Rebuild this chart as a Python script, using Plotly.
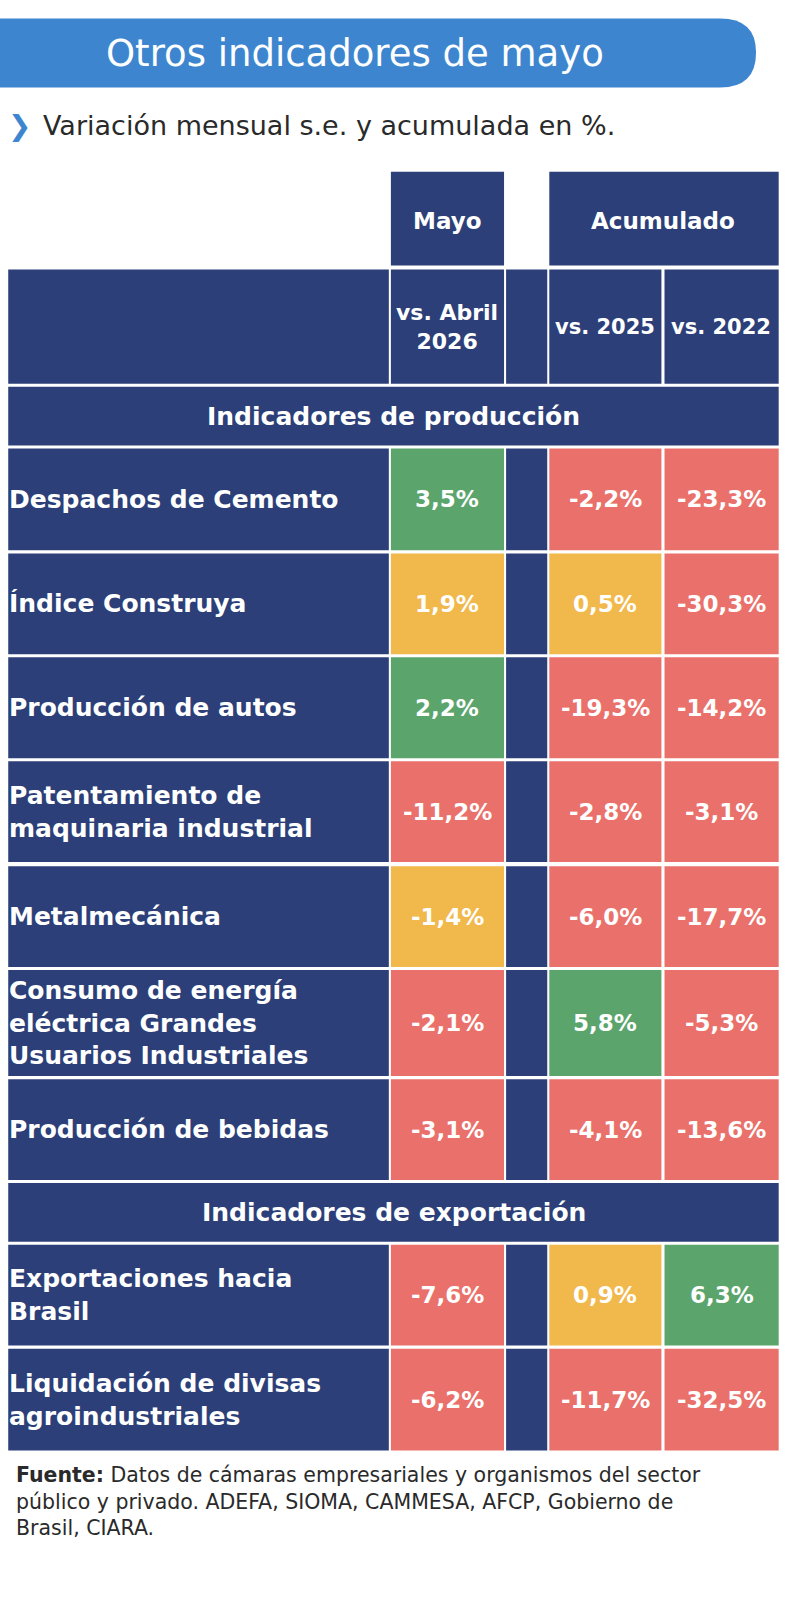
import plotly.graph_objects as go

indicadores = ["Despachos de Cemento", "Índice Construya", "Producción de autos",
               "Patentamiento de<br>maquinaria industrial", "Metalmecánica",
               "Consumo de energía<br>eléctrica Grandes<br>Usuarios Industriales",
               "Producción de bebidas",
               "Exportaciones hacia<br>Brasil", "Liquidación de divisas<br>agroindustriales"]
mayo = ["3,5%", "1,9%", "2,2%", "-11,2%", "-1,4%", "-2,1%", "-3,1%", "-7,6%", "-6,2%"]
vs2025 = ["-2,2%", "0,5%", "-19,3%", "-2,8%", "-6,0%", "5,8%", "-4,1%", "0,9%", "-11,7%"]
vs2022 = ["-23,3%", "-30,3%", "-14,2%", "-3,1%", "-17,7%", "-5,3%", "-13,6%", "6,3%", "-32,5%"]
sem_mayo = ["v", "a", "v", "r", "a", "r", "r", "r", "r"]
sem_2025 = ["r", "a", "r", "r", "r", "v", "r", "a", "r"]
sem_2022 = ["r", "r", "r", "r", "r", "r", "r", "v", "r"]
secciones = ["Indicadores de producción", "Indicadores de exportación"]

NAVY = "#2c3f78"
COL = {"v": "#5ba56d", "a": "#f1b84b", "r": "#ea716b"}
FONT = "DejaVu Sans"

# row boundaries (top, bottom) in reference pixels
filas = [(436, 535), (538, 636), (639, 737), (740, 838), (842, 940), (943, 1046),
         (1049, 1147), (1210, 1308), (1311, 1410)]
sec_y = [(376, 433), (1150, 1207)]
cx = {"lab": (8, 378), "m": (380, 490), "g": (492, 532), "a": (534, 643), "b": (646, 757)}

fig = go.Figure()
shapes, ann = [], []

def rect(x0, y0, x1, y1, c):
    shapes.append(dict(type="rect", x0=x0, x1=x1, y0=y0, y1=y1, fillcolor=c,
                       line=dict(width=0), layer="below"))

def txt(x, y, s, size=22, anchor="center", color="white", bold=True):
    ann.append(dict(x=x, y=y, text=f"<b>{s}</b>" if bold else s, showarrow=False,
                    xanchor=anchor, align="left" if anchor == "left" else "center",
                    font=dict(family=FONT, size=size, color=color)))

# title bar
shapes.append(dict(type="path", path="M 0 18 L 700 18 Q 735 18 735 51 Q 735 85 700 85 L 0 85 Z",
                   fillcolor="#3d86cf", line=dict(width=0)))
txt(345, 52, "Otros indicadores de mayo", size=37, bold=False)
txt(6, 122, "❯", size=28, anchor="left", color="#3d86cf")
txt(40, 122, "Variación mensual s.e. y acumulada en %.", size=27, anchor="left", color="#2a2a2a", bold=False)

# header row 1
rect(380, 167, 490, 258, NAVY)
rect(534, 167, 757, 258, NAVY)
txt(435, 215, "Mayo", size=23)
txt(645, 215, "Acumulado", size=23)
# header row 2
for k, (x0, x1) in cx.items():
    rect(x0, 262, x1, 373, NAVY)
txt(435, 318, "vs. Abril<br>2026", size=22)
txt(588, 318, "vs. 2025", size=21)
txt(701, 318, "vs. 2022", size=21)

for (y0, y1), s in zip(sec_y, secciones):
    rect(8, y0, 757, y1, NAVY)
    txt(383, (y0 + y1) / 2, s, size=25)

for i, (y0, y1) in enumerate(filas):
    yc = (y0 + y1) / 2
    rect(cx["lab"][0], y0, cx["lab"][1], y1, NAVY)
    rect(cx["g"][0], y0, cx["g"][1], y1, NAVY)
    for key, vals, sem in (("m", mayo, sem_mayo), ("a", vs2025, sem_2025), ("b", vs2022, sem_2022)):
        x0, x1 = cx[key]
        rect(x0, y0, x1, y1, COL[sem[i]])
        txt((x0 + x1) / 2, yc, vals[i], size=23)
    txt(7, yc, indicadores[i], size=25, anchor="left")

ann.append(dict(x=14, y=1460, xanchor="left", yanchor="middle", showarrow=False, align="left",
                text="<b>Fuente:</b> Datos de cámaras empresariales y organismos del sector<br>"
                     "público y privado. ADEFA, SIOMA, CAMMESA, AFCP, Gobierno de<br>Brasil, CIARA.",
                font=dict(family=FONT, size=20.5, color="#2a2a2a")))

fig.update_layout(width=790, height=1611, margin=dict(l=0, r=0, t=0, b=0),
                  plot_bgcolor="white", paper_bgcolor="white", shapes=shapes, annotations=ann,
                  xaxis=dict(range=[0, 768], visible=False, fixedrange=True),
                  yaxis=dict(range=[1566, 0], visible=False, fixedrange=True),
                  showlegend=False)
fig.write_html("out.html", config={"displayModeBar": False})

with open("out.html", encoding="utf-8") as f:
    html = f.read()
html = html.replace("<body>", '<body style="margin:0;overflow:hidden">', 1)
with open("out.html", "w", encoding="utf-8") as f:
    f.write(html)
